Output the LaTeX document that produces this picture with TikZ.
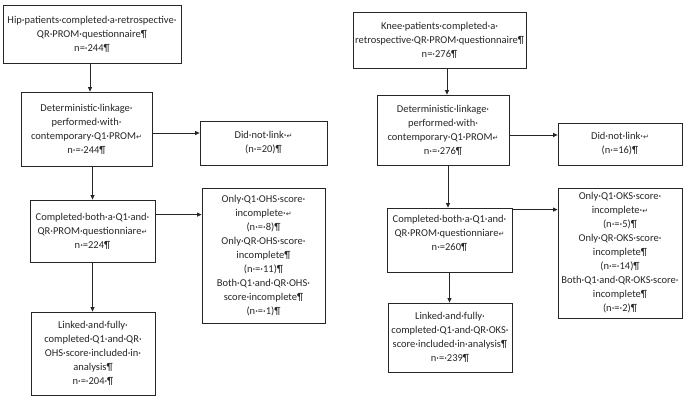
\documentclass[tikz,border=0pt]{standalone}
\usepackage{fontspec}
\setmainfont{Carlito}
\newfontfamily\dv{DejaVu Sans}
\usetikzlibrary{arrows.meta,calc}
\newcommand{\rt}{{\dv\fontsize{7}{7}\selectfont ↵}}
\tikzset{
  box/.style={draw=black!85, line width=0.8pt, align=center, inner sep=2pt,
    font=\fontsize{10.5}{14}\selectfont, text=black!85},
  arr/.style={draw=black!85, line width=0.8pt, -{Triangle[length=4.5pt,width=4pt]}},
  ln/.style={draw=black!85, line width=0.8pt}
}
\begin{document}
\begin{tikzpicture}[x=1pt,y=-1pt]
\useasboundingbox (0,0) rectangle (685,402);
% left column
\node[box, minimum width=178pt, minimum height=58pt] (b1) at (92,34)
  {Hip·patients·completed·a·retrospective·\\QR·PROM·questionnaire¶\\n=·244¶};
\node[box, minimum width=131pt, minimum height=74pt] (b2) at (86.5,129)
  {Deterministic·linkage·\\performed·with·\\contemporary·Q1·PROM\rt\\n·=·244¶};
\node[box, minimum width=127pt, minimum height=44pt] (b3) at (263.5,143)
  {Did·not·link·\rt\\(n·=20)¶};
\node[box, minimum width=125pt, minimum height=62pt] (b4) at (92.5,231)
  {Completed·both·a·Q1·and·\\QR·PROM·questionniare\rt\\n·=224¶};
\node[box, minimum width=123pt, minimum height=135pt] (b5) at (263.5,255.5)
  {Only·Q1·OHS·score·\\incomplete·\rt\\(n·=·8)¶\\Only·QR·OHS·score·\\incomplete¶\\(n·=·11)¶\\Both·Q1·and·QR·OHS·\\score·incomplete¶\\(n·=·1)¶};
\node[box, minimum width=124pt, minimum height=83pt] (b6) at (93,353.5)
  {Linked·and·fully·\\completed·Q1·and·QR·\\OHS·score·included·in·\\analysis¶\\n·=·204·¶};
% right column
\node[box, minimum width=165pt, minimum height=56pt] (b7) at (439.5,40)
  {Knee·patients·completed·a·\\retrospective·QR·PROM·questionnaire¶\\n=·276¶};
\node[box, minimum width=132pt, minimum height=70pt] (b8) at (443,130)
  {Deterministic·linkage·\\performed·with·\\contemporary·Q1·PROM\rt\\n·=·276¶};
\node[box, minimum width=124pt, minimum height=42pt] (b9) at (620,144)
  {Did·not·link·\rt\\(n·=16)¶};
\node[box, minimum width=125pt, minimum height=64pt] (b10) at (449.5,240)
  {Completed·both·a·Q1·and·\\QR·PROM·questionniare\rt\\n·=260¶\\\mbox{}};
\node[box, minimum width=124pt, minimum height=130pt] (b11) at (620,253)
  {Only·Q1·OKS·score·\\incomplete·\rt\\(n·=·5)¶\\Only·QR·OKS·score·\\incomplete¶\\(n·=·14)¶\\Both·Q1·and·QR·OKS·score·\\incomplete¶\\(n·=·2)¶};
\node[box, minimum width=124pt, minimum height=69pt] (b12) at (450,337.5)
  {Linked·and·fully·\\completed·Q1·and·QR·OKS·\\score·included·in·analysis¶\\n·=·239¶};
% connector anchor points
\coordinate (s1) at ($(b1.south)+(-2,0)$);
\coordinate (e2) at ($(b2.east)+(0,4)$);
\coordinate (e4) at ($(b4.north east)+(0,15)$);
\coordinate (s7) at ($(b7.south)+(7.5,0)$);
\coordinate (e8) at ($(b8.east)+(0,5)$);
\coordinate (n10) at ($(b10.north)+(-1.5,0)$);
\coordinate (e10) at ($(b10.north east)+(0,2)$);
% connectors left
\draw[arr] (s1) -- (s1 |- b2.north);
\draw[arr] (e2) -- (e2 -| b3.west);
\draw[arr] (b4.north |- b2.south) -- (b4.north);
\draw[arr] (e4) -- (e4 -| b5.west);
\draw[arr] (b4.south) -- (b4.south |- b6.north);
% connectors right
\draw[arr] (s7) -- (s7 |- b8.north);
\draw[arr] (e8) -- (e8 -| b9.west);
\draw[arr] (n10 |- b8.south) -- (n10);
\draw[arr] (e10) -- (e10 -| b11.west);
\draw[arr] (b10.south) -- (b10.south |- b12.north);
\end{tikzpicture}
\end{document}
